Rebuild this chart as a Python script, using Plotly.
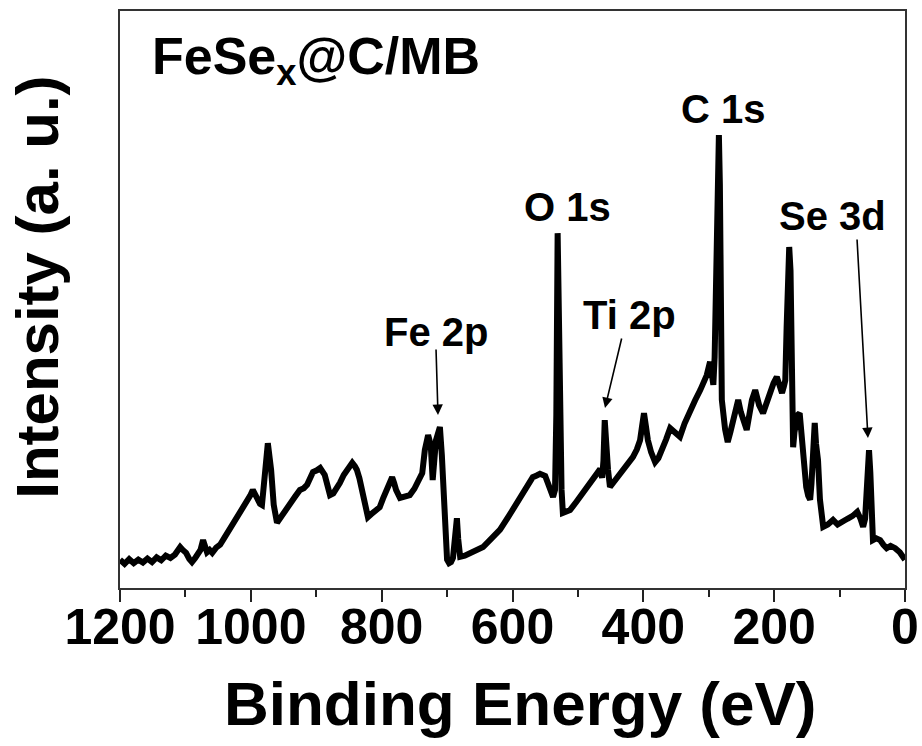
import plotly.graph_objects as go

# XPS survey spectrum of FeSe_x@C/MB (binding energy in eV, intensity in a.u.)
binding_energy = [
    1200, 1193, 1186, 1179, 1172, 1165, 1158, 1151, 1144, 1137, 1130, 1123, 1116, 1111,
    1108, 1104, 1099, 1094, 1090, 1085, 1081, 1077, 1073, 1070, 1067, 1063, 1059, 1053,
    1047, 1041, 1036, 1030, 1024, 1017, 1011, 1006, 1001, 997, 993, 989, 986, 983, 978,
    974, 969, 965, 960, 955, 951, 945, 940, 932, 925, 919, 914, 909, 905, 899, 894, 887,
    883, 879, 874, 870, 864, 858, 853, 849, 845, 841, 838, 834, 830, 825, 821, 816, 812,
    808, 803, 798, 793, 788, 784, 781, 778, 772, 765, 757, 750, 744, 738, 734, 729, 725,
    722, 717, 711, 708, 706, 703, 700, 697, 694, 691, 689, 687, 685, 683, 680, 673, 665,
    655, 645, 632, 619, 606, 593, 581, 569, 563, 558, 550, 544, 538, 535, 533, 531, 529,
    527, 525, 523, 518, 512, 502, 492, 480, 469, 466, 463, 461, 459, 457, 454, 451, 444,
    436, 426, 416, 410, 405, 402, 399, 396, 393, 388, 382, 377, 371, 365, 359, 352, 344,
    337, 329, 321, 313, 308, 303, 298, 295, 293, 291, 289, 286, 284.5, 283, 281, 280, 275,
    271, 267, 263, 259, 255, 251, 248, 242, 238, 234, 229, 226, 223, 217, 212, 206, 201,
    196, 192, 188, 185, 183, 181, 179, 177, 175, 174, 172, 171, 169, 167, 164, 161, 159,
    156, 151, 148, 145, 143, 141, 138, 136, 133, 130, 127, 125, 118, 110, 103, 95, 88, 80,
    73, 68, 64, 61, 59, 57, 55, 53, 52, 50, 49, 44, 38, 33, 28, 22, 15, 8, 4, 0,
]
intensity = [
    4.9, 4.2, 5.0, 4.3, 4.9, 4.4, 5.1, 4.5, 5.3, 4.8, 5.6, 5.2, 5.8, 6.4,
    7.1, 6.6, 6.1, 5.0, 4.5, 5.2, 5.8, 6.6, 8.3, 6.8, 6.2, 6.6, 6.1, 7.0,
    7.5, 8.6, 9.5, 10.6, 11.4, 13.0, 13.8, 14.7, 16.0, 17.0, 16.0, 15.3, 14.6, 14.4, 20.5,
    25.1, 20.5, 14.4, 11.3, 12.2, 12.7, 13.9, 14.7, 15.9, 17.0, 17.3, 17.9, 19.2, 20.1, 20.4, 20.8, 19.6,
    17.5, 16.1, 16.4, 17.0, 18.2, 19.6, 20.5, 21.2, 21.7, 21.1, 20.5, 19.0, 17.0, 14.5, 12.3, 12.8, 13.2,
    13.5, 14.0, 15.5, 17.0, 18.3, 19.2, 18.2, 17.0, 15.6, 15.9, 16.1, 17.2, 18.4, 19.9, 23.9, 26.5, 24.8,
    18.7, 25.6, 27.9, 23.0, 17.0, 10.0, 4.9, 4.3, 4.5, 5.2, 6.9, 9.0, 12.1, 8.5, 5.4, 5.6, 6.1,
    6.6, 7.1, 8.6, 10.1, 12.4, 14.7, 17.0, 19.2, 19.5, 19.8, 19.4, 17.5, 15.8, 17.0, 30.0, 61.5, 45.0,
    25.0, 17.0, 13.0, 13.3, 13.5, 15.0, 16.5, 18.3, 19.9, 20.6, 19.1, 22.0, 29.1, 24.0, 20.5, 17.5, 18.5,
    19.6, 21.0, 22.7, 24.0, 25.6, 28.0, 30.3, 28.0, 25.6, 23.5, 21.8, 22.5, 23.9, 25.8, 27.7, 27.0, 26.2,
    28.5, 30.8, 32.5, 34.3, 35.5, 36.9, 39.2, 37.0, 35.2, 40.0, 50.9, 70.0, 78.5, 70.0, 50.9, 32.6, 27.5,
    25.3, 27.0, 29.1, 31.0, 32.6, 30.5, 29.1, 27.4, 30.0, 32.6, 34.3, 33.0, 31.7, 30.3, 32.0, 34.3, 35.5,
    36.6, 35.0, 33.8, 35.0, 36.0, 45.0, 55.0, 59.1, 55.0, 49.6, 35.0, 24.4, 27.0, 29.1, 30.0, 30.3, 27.0,
    23.9, 17.5, 16.0, 15.3, 18.0, 22.2, 28.6, 25.0, 22.2, 15.3, 12.0, 10.6, 11.0, 11.8, 11.0, 11.4, 12.0, 12.5,
    13.2, 12.0, 10.6, 12.0, 15.3, 20.0, 23.9, 20.0, 15.3, 10.0, 8.3, 8.6, 8.3, 7.5, 6.9, 7.3, 6.9, 6.2, 5.5, 4.9,
]

# Peak labels: text, label position (eV, a.u.)
peak_labels = ["O 1s", "C 1s", "Se 3d", "Fe 2p", "Ti 2p"]
label_energy = [515.2, 276.7, 111.6, 716.9, 420.4]
label_intensity = [66.0, 83.0, 64.5, 44.4, 47.3]

# Arrows pointing from a label to its peak: tip (eV, a.u.) and tail offset (px)
arrow_tip_energy = [713.9, 458.6, 56.6]
arrow_tip_intensity = [30.0, 31.2, 26.0]
arrow_tail_dx = [-2, 17, -11]
arrow_tail_dy = [-67, -71, -200]

x_ticks = [1200, 1000, 800, 600, 400, 200, 0]

FONT = "Liberation Sans, Arial, sans-serif"

fig = go.Figure()
fig.add_trace(go.Scatter(
    x=binding_energy, y=intensity, mode="lines",
    line=dict(color="black", width=6),
    showlegend=False, hoverinfo="skip",
))

annotations = []
for txt, ex, iy in zip(peak_labels, label_energy, label_intensity):
    annotations.append(dict(
        x=ex, y=iy, xref="x", yref="y", text=f"<b>{txt}</b>", showarrow=False,
        xanchor="center", yanchor="middle",
        font=dict(family=FONT, size=40, color="black"),
    ))
for ex, iy, dx, dy in zip(arrow_tip_energy, arrow_tip_intensity, arrow_tail_dx, arrow_tail_dy):
    annotations.append(dict(
        x=ex, y=iy, xref="x", yref="y", text="", showarrow=True,
        ax=dx, ay=dy, arrowhead=2, arrowsize=1.3, arrowwidth=1.6,
        arrowcolor="black", standoff=0,
    ))

# sample name
annotations.append(dict(
    x=0.038, y=0.915, xref="paper", yref="paper",
    text="<b>FeSe<sub>x</sub>@C/MB</b>", showarrow=False,
    xanchor="left", yanchor="middle",
    font=dict(family=FONT, size=52, color="black"),
))
# axis titles
annotations.append(dict(
    x=0.5096, y=-0.201, xref="paper", yref="paper",
    text="<b>Binding Energy (eV)</b>", showarrow=False,
    xanchor="center", yanchor="middle",
    font=dict(family=FONT, size=62, color="black"),
))
annotations.append(dict(
    x=-0.1045, y=0.522, xref="paper", yref="paper",
    text="<b>Intensity (a. u.)</b>", showarrow=False, textangle=-90,
    xanchor="center", yanchor="middle",
    font=dict(family=FONT, size=60, color="black"),
))

fig.update_layout(
    width=922, height=746,
    margin=dict(l=120, r=17, t=11, b=158),
    paper_bgcolor="white", plot_bgcolor="white",
    annotations=annotations,
)
fig.update_xaxes(
    range=[1200, 0], tickvals=x_ticks, ticktext=[str(v) for v in x_ticks],
    ticks="outside", ticklen=12, tickwidth=1.5, tickcolor="#222",
    minor=dict(dtick=100, ticks="outside", ticklen=7, tickwidth=1.5, tickcolor="#222"),
    showline=True, mirror=True, linecolor="#333", linewidth=2,
    showgrid=False, zeroline=False,
    tickfont=dict(family=FONT, size=50, color="black", weight="bold"),
    ticklabelstandoff=-18,
    automargin=False,
)
fig.update_yaxes(
    range=[0, 100], showticklabels=False, ticks="",
    showline=True, mirror=True, linecolor="#333", linewidth=2,
    showgrid=False, zeroline=False, automargin=False,
)

fig.write_html("out.html")
